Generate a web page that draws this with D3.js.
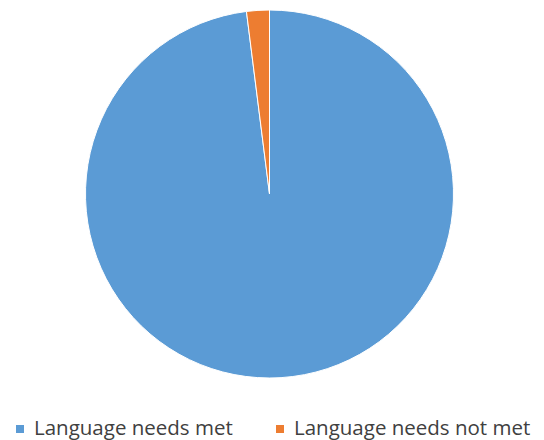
<!DOCTYPE html>
<html><head><meta charset="utf-8">
<script src="https://cdn.jsdelivr.net/npm/d3@7"></script>
<style>body{margin:0;background:#fff;overflow:hidden}</style>
</head><body>
<svg id="c" width="544" height="440"></svg>
<script>
const categories = ["Language needs met", "Language needs not met"];
const values = [98, 2];
const colors = ["#5B9BD5", "#ED7D31"];

const svg = d3.select("#c");
const cx = 269.5, cy = 194, r = 184;
const pie = d3.pie().sort(null).value(d => d)
  .startAngle(0).endAngle(2 * Math.PI);
const arcs = pie(values);
const arc = d3.arc().innerRadius(0).outerRadius(r);
const g = svg.append("g").attr("transform", `translate(${cx},${cy})`);
g.selectAll("path").data(arcs).enter().append("path")
  .attr("d", arc)
  .attr("fill", (d, i) => colors[i])
  .attr("stroke", "#fff").attr("stroke-width", 1);

const legendX = [16, 276];
const lg = svg.append("g");
categories.forEach((c, i) => {
  lg.append("rect").attr("x", legendX[i]).attr("y", 425).attr("width", 8).attr("height", 8).attr("fill", colors[i]);
  lg.append("text").attr("x", legendX[i] + 18).attr("y", 435)
    .attr("font-family", "Open Sans, sans-serif").attr("font-size", 20.5)
    .attr("fill", "#404040").text(c);
});
</script>
</body></html>
